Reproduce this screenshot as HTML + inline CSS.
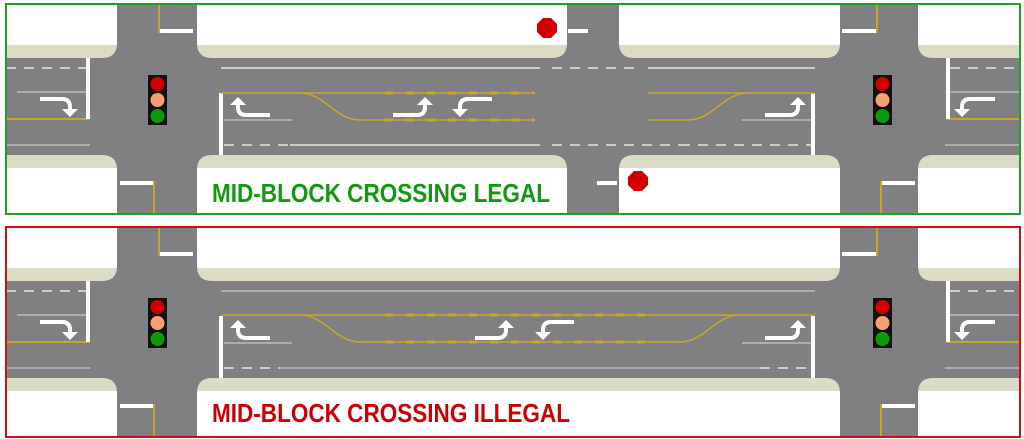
<!DOCTYPE html>
<html><head><meta charset="utf-8"><style>
html,body{margin:0;padding:0;background:#fff;}
svg{display:block;}
</style></head><body>
<svg width="1024" height="439" viewBox="0 0 1024 439" xmlns="http://www.w3.org/2000/svg">
<defs>
<linearGradient id="gt" gradientUnits="userSpaceOnUse" x1="0" y1="0" x2="0" y2="60">
<stop offset="0" stop-color="#fff"/><stop offset="0.75" stop-color="#fff"/><stop offset="0.75" stop-color="#dcdcc6"/><stop offset="1" stop-color="#dcdcc6"/></linearGradient>
<linearGradient id="gb" gradientUnits="userSpaceOnUse" x1="0" y1="155" x2="0" y2="175">
<stop offset="0" stop-color="#dcdcc6"/><stop offset="0.65" stop-color="#dcdcc6"/><stop offset="0.65" stop-color="#fff"/><stop offset="1" stop-color="#fff"/></linearGradient>
<clipPath id="cp"><rect x="6" y="4" width="1014" height="210"/></clipPath>
<g id="common">
<rect x="6" y="4" width="1014" height="210" fill="#808083"/>
<!-- traffic lights -->
<g>
<rect x="148" y="75" width="19" height="50" fill="#111"/>
<circle cx="157.5" cy="84" r="7" fill="#d00000"/><circle cx="157.5" cy="100" r="7" fill="#f9a070"/><circle cx="157.5" cy="116" r="7" fill="#0a9a0a"/>
<rect x="873" y="75" width="19" height="50" fill="#111"/>
<circle cx="882.5" cy="84" r="7" fill="#d00000"/><circle cx="882.5" cy="100" r="7" fill="#f9a070"/><circle cx="882.5" cy="116" r="7" fill="#0a9a0a"/>
</g>
<!-- left segment -->
<line x1="6" y1="68" x2="86" y2="68" stroke="#e6e6e6" stroke-width="1.5" stroke-dasharray="10 8"/>
<line x1="17" y1="92" x2="86" y2="92" stroke="#bbb" stroke-width="1.5"/>
<line x1="6" y1="119" x2="90" y2="119" stroke="#c8a52a" stroke-width="2"/>
<line x1="6" y1="145" x2="90" y2="145" stroke="#bbb" stroke-width="1.5"/>
<rect x="86" y="58" width="4" height="61" fill="#fff"/>
<!-- right far segment -->
<line x1="950" y1="68" x2="1020" y2="68" stroke="#e6e6e6" stroke-width="1.5" stroke-dasharray="10 8"/>
<line x1="950" y1="92" x2="1020" y2="92" stroke="#bbb" stroke-width="1.5"/>
<line x1="946" y1="119" x2="1020" y2="119" stroke="#c8a52a" stroke-width="2"/>
<line x1="945" y1="145" x2="1020" y2="145" stroke="#bbb" stroke-width="1.5"/>
<rect x="946" y="58" width="4" height="61" fill="#fff"/>
<!-- stop bars main block -->
<rect x="219" y="93" width="4" height="62" fill="#fff"/>
<rect x="811" y="93" width="4" height="62" fill="#fff"/>
<line x1="224" y1="120" x2="292" y2="120" stroke="#bbb" stroke-width="1.5"/>
<line x1="742" y1="120" x2="811" y2="120" stroke="#bbb" stroke-width="1.5"/>
<!-- crosswalk bars on vertical roads -->
<rect x="160" y="29" width="33" height="4" fill="#fff"/><line x1="159" y1="4" x2="159" y2="33" stroke="#c8a52a" stroke-width="2"/>
<rect x="120" y="181" width="33" height="4" fill="#fff"/><line x1="154" y1="181" x2="154" y2="214" stroke="#c8a52a" stroke-width="2"/>
<rect x="842" y="29" width="34" height="4" fill="#fff"/><line x1="877" y1="4" x2="877" y2="33" stroke="#c8a52a" stroke-width="2"/>
<rect x="882" y="181" width="33" height="4" fill="#fff"/><line x1="881" y1="181" x2="881" y2="214" stroke="#c8a52a" stroke-width="2"/>
<!-- arrows -->
<g fill="none" stroke="#fff" stroke-width="4">
<path d="M40 99 H62 Q70 99 70 107 V109"/>
<path d="M270 115 H246 Q238 115 238 107 V104"/>
<path d="M995 99 H970 Q962 99 962 107 V109"/>
</g>
<g fill="#fff">
<polygon points="62,109 78,109 70,117"/>
<polygon points="230,105 246,105 238,97"/>
<polygon points="954,109 970,109 962,117"/>
</g>
</g>
</defs>

<!-- ===== TOP PANEL ===== -->
<g clip-path="url(#cp)">
<use href="#common"/>
<!-- blocks top -->
<g fill="url(#gt)">
<path d="M-20 0 H117 V43 Q117 58 102 58 H-20 Z"/>
<path d="M197 0 H567 V43 Q567 58 552 58 H212 Q197 58 197 43 Z"/>
<path d="M619 0 H840 V43 Q840 58 825 58 H634 Q619 58 619 43 Z"/>
<path d="M918 0 H1040 V58 H933 Q918 58 918 43 Z"/>
</g>
<g fill="url(#gb)">
<path d="M-20 155 H102 Q117 155 117 170 V230 H-20 Z"/>
<path d="M212 155 H552 Q567 155 567 170 V230 H197 V170 Q197 155 212 155 Z"/>
<path d="M634 155 H825 Q840 155 840 170 V230 H619 V170 Q619 155 634 155 Z"/>
<path d="M933 155 H1040 V230 H918 V170 Q918 155 933 155 Z"/>
</g>
<line x1="221" y1="68" x2="540" y2="68" stroke="#e6e6e6" stroke-width="1.5"/>
<line x1="552" y1="68" x2="640" y2="68" stroke="#e6e6e6" stroke-width="1.5" stroke-dasharray="10 8"/>
<line x1="648" y1="68" x2="815" y2="68" stroke="#e6e6e6" stroke-width="1.5"/>
<line x1="224" y1="145" x2="290" y2="145" stroke="#e6e6e6" stroke-width="1.5" stroke-dasharray="10 8"/>
<line x1="290" y1="145" x2="540" y2="145" stroke="#e6e6e6" stroke-width="1.5"/>
<line x1="552" y1="145" x2="680" y2="145" stroke="#e6e6e6" stroke-width="1.5" stroke-dasharray="10 8"/>
<line x1="680" y1="145" x2="812" y2="145" stroke="#e6e6e6" stroke-width="1.5" stroke-dasharray="10 8"/>
<g fill="none" stroke="#c8a52a" stroke-width="1.5">
<path d="M221 93 H535"/>
<path d="M300 93 C325 93 335 120 360 120 H535"/>
<path d="M648 93 H815"/>
<path d="M648 120 H688 C713 120 723 93 748 93"/>
</g>
<g stroke="#c8a52a" stroke-width="3" stroke-dasharray="8 13">
<line x1="385" y1="93" x2="535" y2="93"/><line x1="385" y1="120" x2="535" y2="120"/>
</g>
<g fill="none" stroke="#fff" stroke-width="4">
<path d="M393 115 H417 Q425 115 425 107 V104"/>
<path d="M492 99 H468 Q460 99 460 107 V109"/>
<path d="M765 115 H790 Q798 115 798 107 V104"/>
</g>
<g fill="#fff">
<polygon points="417,105 433,105 425,97"/>
<polygon points="452,109 468,109 460,117"/>
<polygon points="790,105 806,105 798,97"/>
<rect x="568" y="29" width="20" height="4"/>
<rect x="597" y="181" width="20" height="4"/>
</g>
<polygon fill="#d00000" points="543,18 551,18 557,24 557,32 551,38 543,38 537,32 537,24"/>
<polygon fill="#d00000" points="634,171 642,171 648,177 648,185 642,191 634,191 628,185 628,177"/>
<text x="212" y="202" font-family="Liberation Sans, sans-serif" font-weight="bold" font-size="26" fill="#119911" textLength="338" lengthAdjust="spacingAndGlyphs">MID-BLOCK CROSSING LEGAL</text>
</g>
<rect x="6" y="4" width="1014" height="210" fill="none" stroke="#22a022" stroke-width="2"/>

<!-- ===== BOTTOM PANEL ===== -->
<g transform="translate(0,223)">
<g clip-path="url(#cp)">
<use href="#common"/>
<g fill="url(#gt)">
<path d="M-20 0 H117 V43 Q117 58 102 58 H-20 Z"/>
<path d="M197 0 H840 V43 Q840 58 825 58 H212 Q197 58 197 43 Z"/>
<path d="M918 0 H1040 V58 H933 Q918 58 918 43 Z"/>
</g>
<g fill="url(#gb)">
<path d="M-20 155 H102 Q117 155 117 170 V230 H-20 Z"/>
<path d="M212 155 H825 Q840 155 840 170 V230 H197 V170 Q197 155 212 155 Z"/>
<path d="M933 155 H1040 V230 H918 V170 Q918 155 933 155 Z"/>
</g>
<line x1="221" y1="68" x2="815" y2="68" stroke="#bbb" stroke-width="1.5"/>
<line x1="224" y1="145" x2="280" y2="145" stroke="#e6e6e6" stroke-width="1.5" stroke-dasharray="10 8"/>
<line x1="280" y1="145" x2="760" y2="145" stroke="#bbb" stroke-width="1.5"/>
<line x1="760" y1="145" x2="812" y2="145" stroke="#e6e6e6" stroke-width="1.5" stroke-dasharray="10 8"/>
<g fill="none" stroke="#c8a52a" stroke-width="1.5">
<path d="M221 92 H815"/>
<path d="M300 92 C325 92 335 119 360 119 H680 C705 119 715 92 740 92"/>
</g>
<g stroke="#c8a52a" stroke-width="3" stroke-dasharray="8 13">
<line x1="385" y1="92" x2="650" y2="92"/><line x1="385" y1="119" x2="650" y2="119"/>
</g>
<g fill="none" stroke="#fff" stroke-width="4">
<path d="M475 115 H498 Q506 115 506 107 V104"/>
<path d="M574 99 H551 Q543 99 543 107 V109"/>
<path d="M765 115 H790 Q798 115 798 107 V104"/>
</g>
<g fill="#fff">
<polygon points="498,105 514,105 506,97"/>
<polygon points="535,109 551,109 543,117"/>
<polygon points="790,105 806,105 798,97"/>
</g>
<text x="212" y="199" font-family="Liberation Sans, sans-serif" font-weight="bold" font-size="26" fill="#cc0000" textLength="358" lengthAdjust="spacingAndGlyphs">MID-BLOCK CROSSING ILLEGAL</text>
</g>
<rect x="6" y="4" width="1014" height="210" fill="none" stroke="#cc1111" stroke-width="2"/>
</g>
</svg>
</body></html>
